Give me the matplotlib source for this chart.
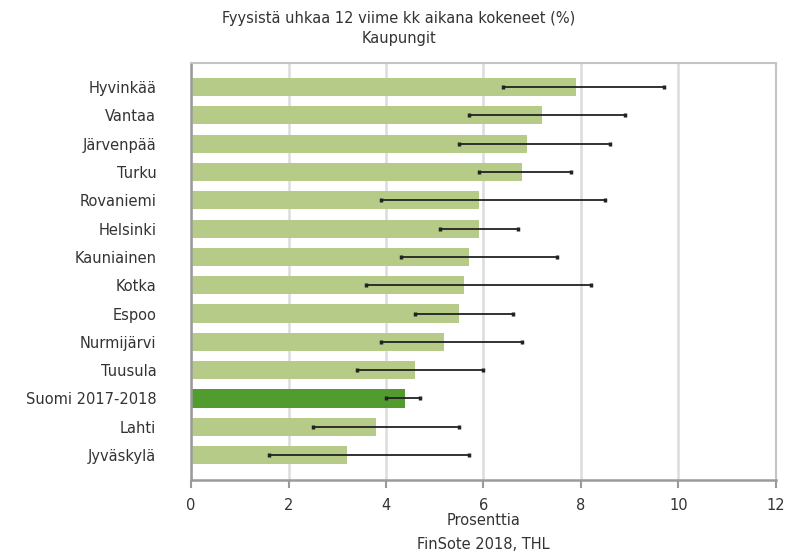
import matplotlib.pyplot as plt
import numpy as np

plt.rcParams['font.family'] = ['DejaVu Sans']

kunnat = ['Hyvinkää', 'Vantaa', 'Järvenpää', 'Turku', 'Rovaniemi', 'Helsinki',
          'Kauniainen', 'Kotka', 'Espoo', 'Nurmijärvi', 'Tuusula',
          'Suomi 2017-2018', 'Lahti', 'Jyväskylä']
osuus = [7.9, 7.2, 6.9, 6.8, 5.9, 5.9, 5.7, 5.6, 5.5, 5.2, 4.6, 4.4, 3.8, 3.2]
ala = [6.4, 5.7, 5.5, 5.9, 3.9, 5.1, 4.3, 3.6, 4.6, 3.9, 3.4, 4.0, 2.5, 1.6]
yla = [9.7, 8.9, 8.6, 7.8, 8.5, 6.7, 7.5, 8.2, 6.6, 6.8, 6.0, 4.7, 5.5, 5.7]
xtikit = [0, 2, 4, 6, 8, 10, 12]

vaalea = '#b7cb89'
tumma = '#529b2e'
teksti = '#333333'

fig = plt.figure(figsize=(7.87, 5.51), dpi=100)
ax = fig.add_axes([0.2427, 0.1289, 0.7433, 0.7568])

y = np.arange(len(kunnat))
osuus = np.array(osuus)
virhe = [osuus - np.array(ala), np.array(yla) - osuus]
varit = [tumma if k.startswith('Suomi') else vaalea for k in kunnat]

ax.barh(y, osuus, height=0.64, color=varit, zorder=2)
ax.errorbar(osuus, y, xerr=virhe, fmt='none', ecolor='#222222',
            elinewidth=1.3, capsize=1.6, capthick=2.5, zorder=3)

ax.set_xlim(0, 12)
ax.set_ylim(len(kunnat) - 1 + 0.88, -0.85)
ax.set_xticks(xtikit)
ax.set_yticks(y)
ax.set_yticklabels(kunnat)

ax.grid(axis='x', color='#dcdcdc', linewidth=1.8, zorder=0)
ax.set_axisbelow(True)

for s in ['top', 'right']:
    ax.spines[s].set_color('#c4c4c4')
    ax.spines[s].set_linewidth(1.5)
for s in ['left', 'bottom']:
    ax.spines[s].set_color('#9a9a9a')
    ax.spines[s].set_linewidth(1.8)

ax.tick_params(axis='y', length=0, pad=25, labelsize=10.5, labelcolor=teksti)
ax.tick_params(axis='x', length=6, width=1.5, color='#9a9a9a', pad=7,
               labelsize=10.5, labelcolor=teksti)

ax.set_xlabel('Prosenttia', fontsize=10.5, color=teksti, labelpad=0)

fig.text(0.507, 0.948, 'Fyysistä uhkaa 12 viime kk aikana kokeneet (%)\nKaupungit',
         ha='center', va='center', fontsize=10.5, color=teksti, linespacing=1.4)
fig.text(0.614, 0.012, 'FinSote 2018, THL', ha='center', va='center',
         fontsize=10.5, color=teksti)

fig.savefig('out.png', dpi=100)
